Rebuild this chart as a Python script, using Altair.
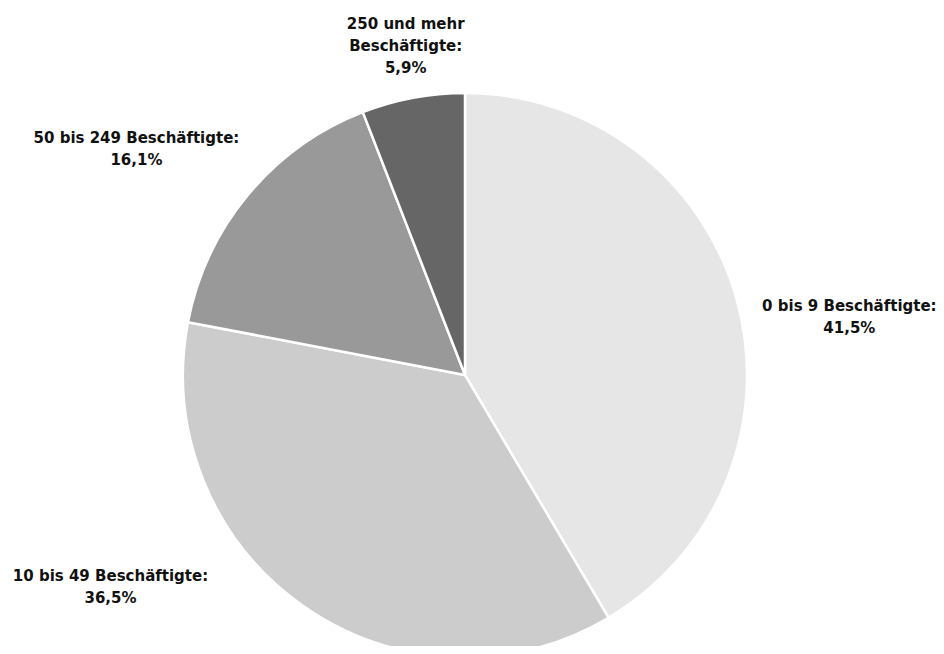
import altair as alt
import pandas as pd

# ---- data ----
categories = ["0 bis 9 Beschäftigte", "10 bis 49 Beschäftigte",
              "50 bis 249 Beschäftigte", "250 und mehr Beschäftigte"]
values = [41.5, 36.5, 16.1, 5.9]
colors = ["#e6e6e6", "#cccccc", "#999999", "#666666"]

total = sum(values)


def make_label(cat, val):
    pct = f"{val:.1f}%".replace(".", ",")
    if cat.startswith("250"):
        return ["250 und mehr", "Beschäftigte:", pct]
    return [cat + ":", pct]


df = pd.DataFrame({"category": categories, "value": values})
df["idx"] = range(len(df))
df["mid"] = df["value"].cumsum() - df["value"] / 2
df["label"] = [make_label(c, v) for c, v in zip(categories, values)]

# ---- style / layout ----
CX, CY = 457, 367
R = 282
LABEL_R = 300
label_offsets = {
    "0 bis 9 Beschäftigte": (95, 15),
    "10 bis 49 Beschäftigte": (-182, -39),
    "50 bis 249 Beschäftigte": (-98, -40),
    "250 und mehr Beschäftigte": (-4, -51),
}
FONT = "DejaVu Sans"

pie = alt.Chart(df).mark_arc(
    outerRadius=R, stroke="white", strokeWidth=2.5
).encode(
    theta=alt.Theta("value:Q", stack=True, scale=alt.Scale(domain=[0, total])),
    color=alt.Color("category:N", scale=alt.Scale(domain=categories, range=colors), legend=None),
    order=alt.Order("idx:Q"),
    x=alt.value(CX),
    y=alt.value(CY),
)

text_layers = []
for cat in categories:
    dx, dy = label_offsets[cat]
    t = alt.Chart(df).transform_filter(
        alt.datum.category == cat
    ).mark_text(
        font=FONT, fontSize=15, fontWeight="bold", color="#111111",
        align="center", baseline="alphabetic", lineHeight=22,
        radius=LABEL_R, dx=dx, dy=dy,
    ).encode(
        theta=alt.Theta("mid:Q", scale=alt.Scale(domain=[0, total])),
        text="label",
        x=alt.value(CX),
        y=alt.value(CY),
    )
    text_layers.append(t)

chart = alt.layer(pie, *text_layers).resolve_scale(theta="independent").properties(
    width=928, height=638, autosize=alt.AutoSizeParams(type="none"), padding=0
).configure_view(stroke=None)

chart.save("out.html", embed_options={"renderer": "svg", "actions": False})
